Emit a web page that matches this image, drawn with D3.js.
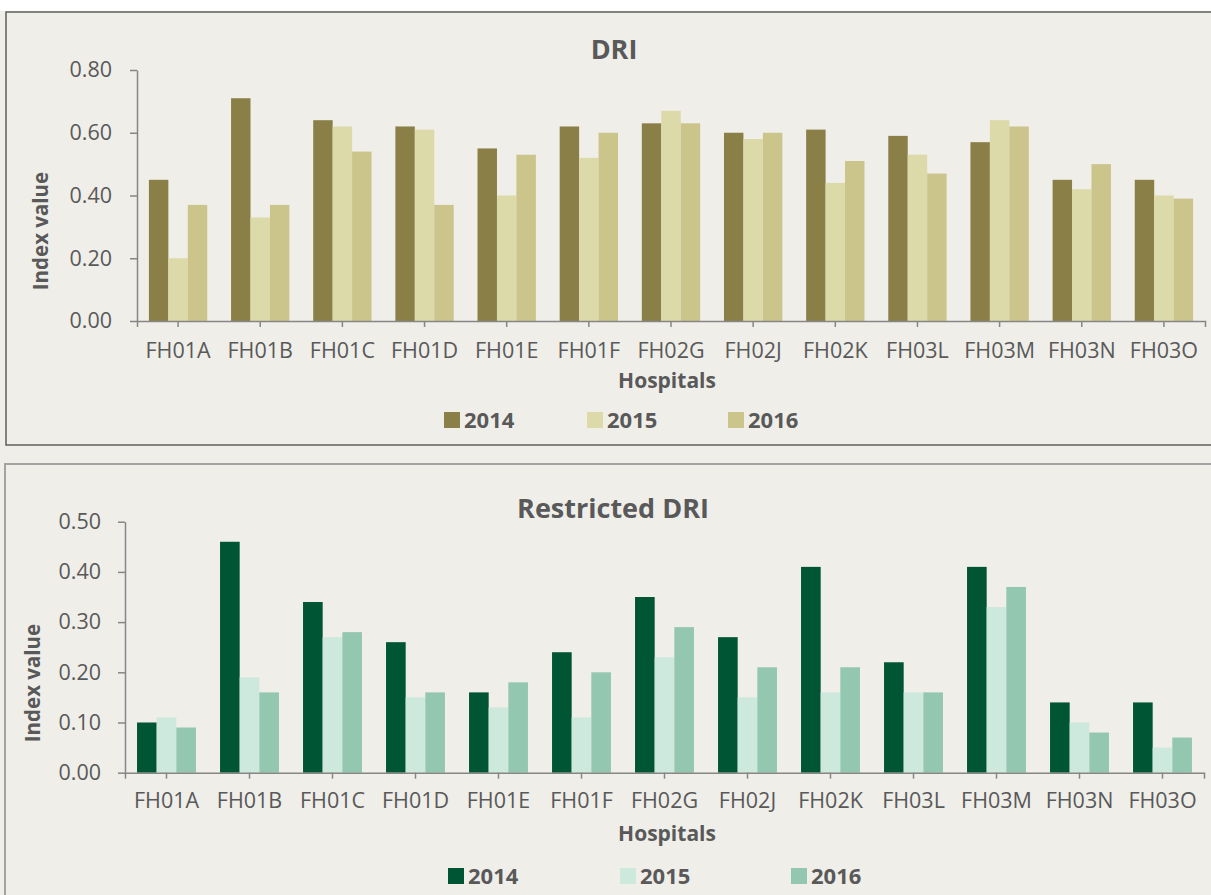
<!DOCTYPE html>
<html>
<head>
<meta charset="utf-8">
<script src="https://cdn.jsdelivr.net/npm/d3@7"></script>
<style>
  body { margin: 0; background: #efeee9; }
  svg { display: block; font-family: "Open Sans", sans-serif; }
</style>
</head>
<body>
<script>
// hospitals and years
var hospitals = ["FH01A", "FH01B", "FH01C", "FH01D", "FH01E", "FH01F", "FH02G",
                 "FH02J", "FH02K", "FH03L", "FH03M", "FH03N", "FH03O"];
var years = ["2014", "2015", "2016"];

// DRI values per year
var dri2014 = [0.45, 0.71, 0.64, 0.62, 0.55, 0.62, 0.63, 0.60, 0.61, 0.59, 0.57, 0.45, 0.45];
var dri2015 = [0.20, 0.33, 0.62, 0.61, 0.40, 0.52, 0.67, 0.58, 0.44, 0.53, 0.64, 0.42, 0.40];
var dri2016 = [0.37, 0.37, 0.54, 0.37, 0.53, 0.60, 0.63, 0.60, 0.51, 0.47, 0.62, 0.50, 0.39];

// Restricted DRI values per year
var rdri2014 = [0.10, 0.46, 0.34, 0.26, 0.16, 0.24, 0.35, 0.27, 0.41, 0.22, 0.41, 0.14, 0.14];
var rdri2015 = [0.11, 0.19, 0.27, 0.15, 0.13, 0.11, 0.23, 0.15, 0.16, 0.16, 0.33, 0.10, 0.05];
var rdri2016 = [0.09, 0.16, 0.28, 0.16, 0.18, 0.20, 0.29, 0.21, 0.21, 0.16, 0.37, 0.08, 0.07];

var driTicks = [0, 0.2, 0.4, 0.6, 0.8];
var rdriTicks = [0, 0.1, 0.2, 0.3, 0.4, 0.5];

var width = 1211,
    height = 895;

var textColor = "#595959",
    axisColor = "#868686";

var svg = d3.select("body").append("svg")
    .attr("width", width)
    .attr("height", height);

svg.append("rect")
    .attr("width", width).attr("height", height)
    .attr("fill", "#efeee9");
svg.append("rect")
    .attr("width", width).attr("height", 11)
    .attr("fill", "#ffffff");

// panel frames
svg.append("rect")
    .attr("x", 6).attr("y", 12)
    .attr("width", 1220).attr("height", 433)
    .attr("fill", "none")
    .attr("stroke", "#5f5f5f")
    .attr("stroke-width", 1.5);
svg.append("rect")
    .attr("x", 5).attr("y", 464)
    .attr("width", 1220).attr("height", 500)
    .attr("fill", "none")
    .attr("stroke", "#a3a3a3")
    .attr("stroke-width", 2);

function drawChart(c) {
  var g = svg.append("g");

  var x = d3.scaleBand()
      .domain(hospitals)
      .range([c.left, c.right])
      .paddingInner(0.29)
      .paddingOuter(0.145);

  var xYear = d3.scaleBand()
      .domain(years)
      .range([0, x.bandwidth()]);

  var y = d3.scaleLinear()
      .domain([0, c.max])
      .range([c.bottom, c.top]);

  var color = d3.scaleOrdinal().domain(years).range(c.colors);

  var rows = hospitals.map(function(h, i) {
    return { name: h, values: c.series.map(function(s) { return s[i]; }) };
  });

  // bars
  g.append("g").selectAll("g")
    .data(rows)
    .enter().append("g")
      .attr("transform", function(d) { return "translate(" + x(d.name) + ",0)"; })
    .selectAll("rect")
    .data(function(d) { return d.values.map(function(v, j) { return { year: years[j], value: v }; }); })
    .enter().append("rect")
      .attr("x", function(d) { return xYear(d.year); })
      .attr("y", function(d) { return y(d.value); })
      .attr("width", xYear.bandwidth())
      .attr("height", function(d) { return c.bottom - y(d.value); })
      .attr("fill", function(d) { return color(d.year); });

  // y axis
  var yAxis = g.append("g")
      .attr("transform", "translate(" + c.left + ",0)")
      .call(d3.axisLeft(y)
        .tickValues(c.ticks)
        .tickFormat(d3.format(".2f"))
        .tickSize(7)
        .tickSizeOuter(0)
        .tickPadding(c.yPad));

  // x axis
  var xAxis = g.append("g")
      .attr("transform", "translate(0," + c.bottom + ")")
      .call(d3.axisBottom(x)
        .tickSize(6)
        .tickSizeOuter(6)
        .tickPadding(c.xPad));

  [yAxis, xAxis].forEach(function(a) {
    a.select(".domain").attr("stroke", axisColor).attr("stroke-width", 1.5);
    a.selectAll(".tick line").attr("stroke", axisColor).attr("stroke-width", 1.5);
    a.selectAll(".tick text")
      .attr("fill", textColor)
      .style("font-size", "21.5px")
      .style("font-family", "Open Sans");
  });

  // titles
  g.append("text")
    .attr("x", c.titleX).attr("y", c.titleY)
    .attr("text-anchor", "middle")
    .attr("fill", textColor)
    .style("font-size", "27px")
    .style("font-weight", "bold")
    .text(c.title);

  g.append("text")
    .attr("transform", "translate(" + c.yLabelX + "," + c.yLabelY + ") rotate(-90)")
    .attr("text-anchor", "middle")
    .attr("dy", "0.35em")
    .attr("fill", textColor)
    .style("font-size", "20.5px")
    .style("font-weight", "bold")
    .text("Index value");

  g.append("text")
    .attr("x", 667).attr("y", c.xLabelY)
    .attr("text-anchor", "middle")
    .attr("fill", textColor)
    .style("font-size", "21px")
    .style("font-weight", "bold")
    .text("Hospitals");

  // legend
  var legend = g.append("g").selectAll("g")
    .data(years)
    .enter().append("g")
      .attr("transform", function(d, i) { return "translate(" + c.legendX[i] + "," + c.legendY + ")"; });

  legend.append("rect")
    .attr("x", 0).attr("y", -8)
    .attr("width", 16).attr("height", 16)
    .attr("fill", function(d) { return color(d); });

  legend.append("text")
    .attr("x", 20).attr("y", 0)
    .attr("dy", "0.36em")
    .attr("fill", textColor)
    .style("font-size", "22px")
    .style("font-weight", "bold")
    .text(function(d) { return d; });
}

drawChart({
  title: "DRI",
  series: [dri2014, dri2015, dri2016],
  ticks: driTicks,
  max: 0.8,
  colors: ["#8a7f47", "#dcdaa9", "#cbc48b"],
  left: 137, right: 1205, top: 70, bottom: 321,
  yPad: 18, xPad: 16,
  titleX: 614, titleY: 59,
  yLabelX: 41, yLabelY: 231,
  xLabelY: 388,
  legendX: [444, 587, 728], legendY: 420
});

drawChart({
  title: "Restricted DRI",
  series: [rdri2014, rdri2015, rdri2016],
  ticks: rdriTicks,
  max: 0.5,
  colors: ["#005534", "#cde8dc", "#94c7af"],
  left: 125, right: 1204, top: 521.7, bottom: 772.7,
  yPad: 17, xPad: 14,
  titleX: 613, titleY: 518,
  yLabelX: 33, yLabelY: 683,
  xLabelY: 841,
  legendX: [448, 620, 791], legendY: 876
});
</script>
</body>
</html>
